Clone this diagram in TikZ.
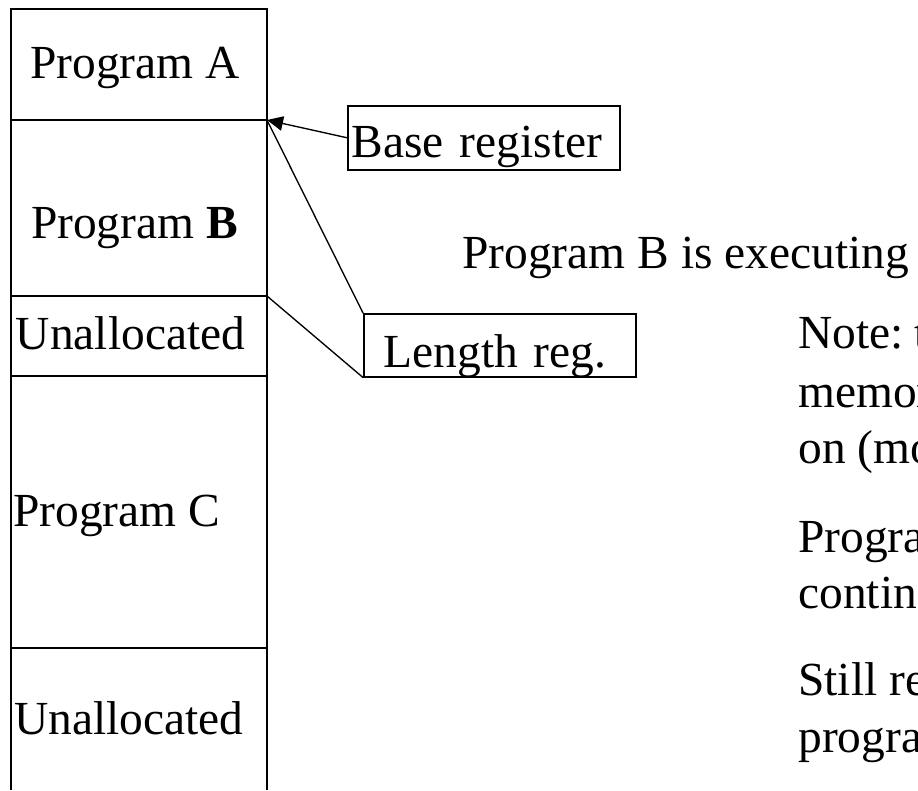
\documentclass[tikz,border=0pt]{standalone}
\usepackage{fontspec}
\setmainfont{Liberation Serif}
\usetikzlibrary{arrows.meta}

\tikzset{
  regbox/.style={draw=black, line width=0.3mm, align=left, inner ysep=0pt},
  memline/.style={black, line width=0.5mm},
}

\begin{document}
\begin{tikzpicture}[scale=0.2, font=\fontsize{27}{32}\selectfont]
    \tikzstyle{every node}+=[inner sep=0pt]
    \useasboundingbox (0,0) rectangle (91.8,-79);
    \clip (0,0) rectangle (91.8,-79);
    % memory column
    \draw [memline] (1.1,-79) -- (1.1,-0.9) -- (26.7,-0.9) -- (26.7,-79);
    \draw [memline] (1.1,-12) -- (26.7,-12);
    \draw [memline] (1.1,-29.6) -- (26.7,-29.6);
    \draw [memline] (1.1,-37.6) -- (26.7,-37.6);
    \draw [memline] (1.1,-64.8) -- (26.7,-64.8);
    \coordinate (atopb) at (26.7,-12);
    \coordinate (btopu) at (26.7,-29.6);
    \draw (13.5,-7.8) node [anchor=base] (proga) {Program A};
    \draw (13.45,-23.8) node [anchor=base] (progb) {Program \textbf{B}};
    \draw (13.05,-34.9) node [anchor=base] (unalloca) {Unallocated};
    \draw (1.3,-52.6) node [anchor=base west] (progc) {Program C};
    \draw (1.4,-73.4) node [anchor=base west] (unallocb) {Unallocated};
    % registers
    \draw (34.7,-10.5) node [regbox, anchor=north west, inner xsep=0.8mm,
      text width=52.8mm, text height=10.4mm, text depth=2.4mm] (basereg) {Base register};
    \draw (36.3,-31.3) node [regbox, anchor=north west, inner xsep=4mm,
      text width=46.4mm, text height=10.8mm, text depth=1.8mm] (lenreg) {Length reg.};
    \draw [black, line width=0.27mm, -{Triangle[length=3.2mm,width=2.9mm]}] (basereg.west) -- (atopb);
    \draw [black, line width=0.27mm] (lenreg.north west) -- (atopb);
    \draw [black, line width=0.27mm] (lenreg.south west) -- (btopu);
    % text on the right
    \draw (46.2,-26.8) node [anchor=base west] (execb) {Program B is executing};
    \draw (79.8,-34.8) node [anchor=base west] (notea) {Note:\kern2.2mm t};
    \draw (79.8,-40.7) node [anchor=base west] (noteb) {memor};
    \draw (79.8,-46.3) node [anchor=base west] (notec) {on (mo};
    \draw (79.8,-55.2) node [anchor=base west] (noted) {Progra};
    \draw (79.8,-60.8) node [anchor=base west] (notee) {contin};
    \draw (79.8,-69.5) node [anchor=base west] (notef) {Still re};
    \draw (79.8,-75.2) node [anchor=base west] (noteg) {progra};
\end{tikzpicture}
\end{document}
